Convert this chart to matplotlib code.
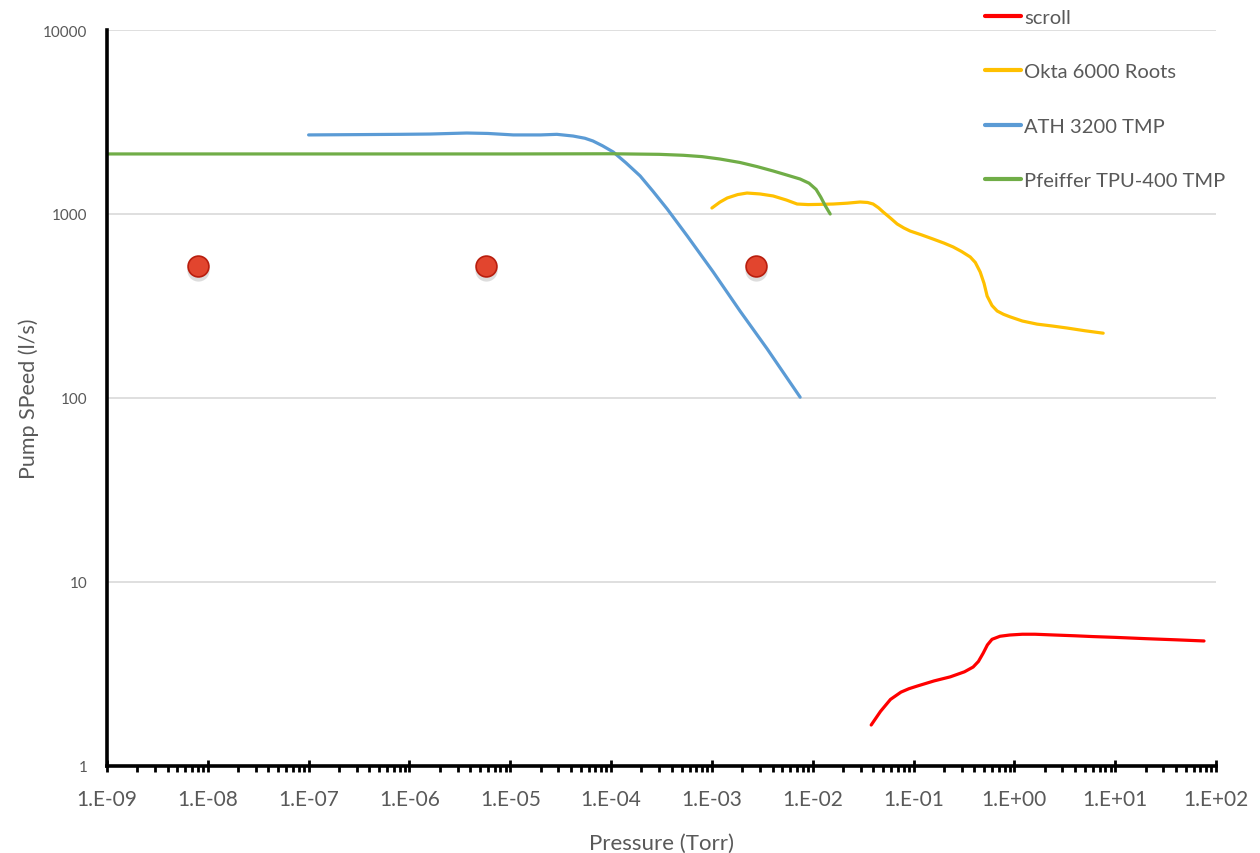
import numpy as np
import matplotlib
matplotlib.use("Agg")
import matplotlib.pyplot as plt
import matplotlib.transforms as mtransforms
from matplotlib.ticker import LogLocator, FuncFormatter, NullFormatter

plt.rcParams['font.family'] = ['Lato', 'DejaVu Sans']

# pump speed curves (pressure in Torr, speed in l/s)
scroll_p = [0.038, 0.047, 0.059, 0.075, 0.09, 0.109, 0.16, 0.231, 0.32, 0.39, 0.44, 0.49, 0.54, 0.6, 0.72, 0.9, 1.2, 1.6, 2.5, 4.0, 6.0, 10, 20, 40, 76]
scroll_s = [1.67, 1.98, 2.3, 2.52, 2.63, 2.72, 2.9, 3.05, 3.25, 3.45, 3.7, 4.1, 4.55, 4.88, 5.07, 5.15, 5.2, 5.2, 5.15, 5.1, 5.05, 5.0, 4.92, 4.85, 4.78]

okta_p = [1.0e-3, 1.2e-3, 1.42e-3, 1.8e-3, 2.23e-3, 3.0e-3, 4.05e-3, 5.5e-3, 7.0e-3, 9.0e-3, 1.18e-2, 1.6e-2, 2.2e-2, 2.95e-2, 3.5e-2, 3.97e-2, 4.5e-2, 5.0e-2, 5.9e-2, 6.87e-2, 8.0e-2, 9.25e-2, 0.12, 0.156, 0.2, 0.247, 0.3, 0.365, 0.41, 0.458, 0.5, 0.537, 0.6, 0.675, 0.78, 0.908, 1.2, 1.68, 2.4, 3.34, 5.0, 7.6]
okta_s = [1078, 1160, 1222, 1275, 1300, 1285, 1253, 1190, 1133, 1125, 1128, 1133, 1145, 1162, 1155, 1133, 1080, 1025, 950, 883, 840, 808, 770, 731, 695, 662, 625, 584, 545, 484, 420, 358, 318, 297, 285, 276, 262, 252, 246, 240, 232, 225]

ath_p = [1e-7, 3e-7, 8e-7, 1.6e-6, 3.7e-6, 6e-6, 1.07e-5, 2e-5, 2.9e-5, 4.2e-5, 5.5e-5, 6.6e-5, 8.2e-5, 1.05e-4, 1.4e-4, 1.94e-4, 2.6e-4, 3.6e-4, 5.7e-4, 1.03e-3, 1.9e-3, 3.53e-3, 7.5e-3]
ath_s = [2690, 2700, 2710, 2720, 2755, 2740, 2690, 2690, 2710, 2653, 2580, 2494, 2350, 2173, 1900, 1611, 1330, 1065, 759, 484, 297, 185, 101]

tpu_p = [1e-9, 1e-8, 1e-7, 1e-6, 1e-5, 1e-4, 3e-4, 5.2e-4, 8.0e-4, 1.2e-3, 1.9e-3, 2.8e-3, 4.05e-3, 5.5e-3, 7.5e-3, 9.2e-3, 1.08e-2, 1.2e-2, 1.33e-2, 1.49e-2]
tpu_s = [2120, 2120, 2120, 2120, 2120, 2125, 2110, 2085, 2050, 1990, 1905, 1810, 1713, 1630, 1549, 1470, 1360, 1237, 1110, 1000]

# red markers
marker_p = [8e-9, 5.8e-6, 2.75e-3]
marker_s = [520, 520, 520]

fig = plt.figure(figsize=(12.6, 8.54), dpi=100)
ax = fig.add_axes([0.0849, 0.1019, 0.8802, 0.8618])

ax.plot(scroll_p, scroll_s, color='#FF0000', lw=2.3, label='scroll', solid_capstyle='round')
ax.plot(okta_p, okta_s, color='#FFC000', lw=2.3, label='Okta 6000 Roots', solid_capstyle='round')
ax.plot(ath_p, ath_s, color='#5B9BD5', lw=2.3, label='ATH 3200 TMP', solid_capstyle='round')
ax.plot(tpu_p, tpu_s, color='#70AD47', lw=2.3, label='Pfeiffer TPU-400 TMP', solid_capstyle='round')

# soft shadow under the markers
shadow = mtransforms.offset_copy(ax.transData, fig=fig, x=0, y=-3, units='points')
ax.plot(marker_p, marker_s, ls='none', marker='o', ms=16, mfc='#909090', mec='none', alpha=0.3,
        transform=shadow, zorder=4)
ax.plot(marker_p, marker_s, ls='none', marker='o', ms=15, mfc='#E2452E', mec='#B81E0E', mew=1.2, zorder=5)

ax.set_xscale('log')
ax.set_yscale('log')
ax.set_xlim(1e-9, 1e2)
ax.set_ylim(1, 1e4)

ax.xaxis.set_major_locator(LogLocator(base=10, numticks=20))
ax.xaxis.set_minor_locator(LogLocator(base=10, subs=np.arange(2, 10), numticks=20))
ax.xaxis.set_major_formatter(FuncFormatter(lambda v, p: "1.E%+03d" % int(round(np.log10(v)))))
ax.xaxis.set_minor_formatter(NullFormatter())
ax.yaxis.set_major_locator(LogLocator(base=10, numticks=10))
ax.yaxis.set_minor_locator(LogLocator(base=10, subs=[], numticks=10))
ax.yaxis.set_major_formatter(FuncFormatter(lambda v, p: "%d" % v))

ax.grid(axis='y', which='major', color='#D9D9D9', lw=1.2)
ax.set_axisbelow(True)

for s in ['top', 'right']:
    ax.spines[s].set_visible(False)
for s in ['left', 'bottom']:
    ax.spines[s].set_linewidth(2.6)
    ax.spines[s].set_color('black')

ax.tick_params(axis='x', which='major', direction='inout', length=9, width=2, colors='black',
               labelcolor='#595959', labelsize=15, pad=12)
ax.tick_params(axis='x', which='minor', direction='out', length=4, width=2, colors='black')
ax.tick_params(axis='y', which='both', length=0, labelcolor='#595959', labelsize=11, pad=14)

ax.set_xlabel('Pressure (Torr)', fontsize=16, color='#595959', labelpad=17)
ax.set_ylabel('Pump SPeed (l/s)', fontsize=15.5, color='#595959', labelpad=3)

leg = ax.legend(loc='upper left', bbox_to_anchor=(0.775, 0.998), bbox_transform=fig.transFigure,
                frameon=False, fontsize=14.5, labelspacing=1.85, handlelength=1.8,
                handletextpad=0.15, borderaxespad=0)
for t in leg.get_texts():
    t.set_color('#595959')
for h in leg.get_lines():
    h.set_linewidth(3)

fig.savefig('out.png', dpi=100)
